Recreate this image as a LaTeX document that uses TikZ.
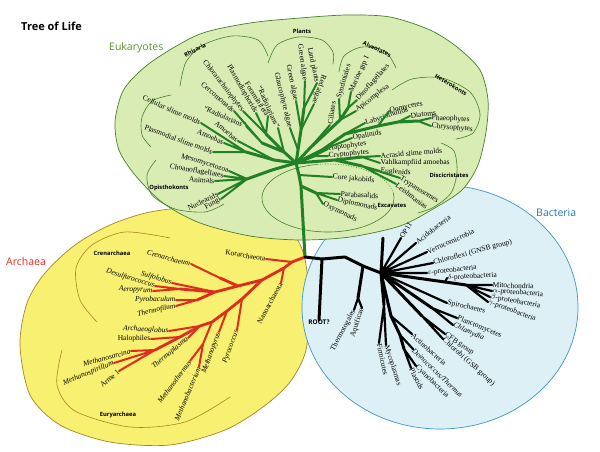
\documentclass[tikz,border=0pt]{standalone}
\usepackage{amsmath}
\usepackage{amssymb}
\usepackage{fontspec}
\setmainfont{Liberation Serif}
\setsansfont{Open Sans}
\usepackage{tikz}
\definecolor{eukgreen}{RGB}{34,128,38}
\definecolor{eukfill}{RGB}{216,236,180}
\definecolor{eukedge}{RGB}{72,128,40}
\definecolor{euktext}{RGB}{88,150,45}
\definecolor{arcfill}{RGB}{248,240,112}
\definecolor{arcedge}{RGB}{168,132,40}
\definecolor{arcred}{RGB}{222,45,30}
\definecolor{bacfill}{RGB}{221,240,246}
\definecolor{bacedge}{RGB}{62,150,200}
\definecolor{bactext}{RGB}{40,120,190}

\begin{document}
\begin{tikzpicture}[line cap=round,line join=round,x=1pt,y=-1pt,
  lbl/.style={font=\fontsize{7.5}{8}\selectfont,inner sep=0.5pt},
  lbe/.style={lbl,anchor=east},
  lbw/.style={lbl,anchor=west},
  ital/.style={font=\fontsize{7.5}{8}\selectfont\itshape},
  grp/.style={font=\sffamily\bfseries\fontsize{5.8}{7}\selectfont,inner sep=0pt},
  domlbl/.style={font=\sffamily\fontsize{10.5}{12}\selectfont,inner sep=0pt,anchor=west},
  eukarc/.style={draw=eukedge,line width=0.6pt},
  arcarc/.style={draw=arcedge,line width=0.6pt},
  euk/.style={draw=eukgreen,line width=3pt},
  eukleaf/.style={draw=eukgreen,line width=2pt},
  arch/.style={draw=arcred,line width=2.8pt},
  archleaf/.style={draw=arcred,line width=2pt},
  bac/.style={draw=black,line width=3pt},
  bacleaf/.style={draw=black,line width=2.2pt}]

\fill[white] (0,0) rectangle (600,452);
\useasboundingbox (0,0) rectangle (600,452);

\filldraw[fill=arcfill,draw=arcedge,line width=0.7pt] plot[smooth cycle] coordinates {(20,345) (27,303) (45,273) (75,245) (110,225) (150,212) (200,207) (250,213) (288,228) (304,255) (309,300) (306,350) (290,382) (263,407) (225,430) (170,445) (110,442) (60,425) (30,395)};
\filldraw[fill=bacfill,draw=bacedge,line width=0.7pt] (440,307) ellipse [x radius=138pt,y radius=122pt];
\filldraw[fill=eukfill,draw=eukedge,line width=0.7pt] plot[smooth cycle] coordinates {(115,122) (122,93) (135,76) (157,58) (200,34) (250,23) (300,18) (347,15) (390,17) (430,30) (457,47) (480,70) (488,100) (486,132) (478,165) (462,190) (433,209) (400,226) (350,237) (300,240) (250,236) (200,223) (163,203) (135,175) (119,150)};

\node[font=\sffamily\bfseries\fontsize{11}{13}\selectfont,anchor=west,inner sep=0pt] (title) at (21,26) {Tree of Life};
\node[domlbl,text=euktext] (eukname) at (109,48) {Eukaryotes};
\node[domlbl,text=arcred] (arcname) at (6,262) {Archaea};
\node[domlbl,text=bactext] (bacname) at (536,213) {Bacteria};

\draw[eukarc] plot[smooth] coordinates {(180,86) (186,62) (203,45) (232,36) (258,40) (268,56)};
\draw[eukarc] plot[smooth] coordinates {(171,95) (152,101) (142,117) (142,135) (151,147)};
\draw[eukarc] plot[smooth] coordinates {(156,160) (147,175) (152,195) (175,209) (205,212) (224,204)};
\draw[eukarc] plot[smooth] coordinates {(268,63) (277,45) (298,37) (322,40) (333,52) (333,64)};
\draw[eukarc] plot[smooth] coordinates {(339,72) (344,56) (362,47) (385,51) (396,68)};
\draw[eukarc] plot[smooth] coordinates {(392,90) (412,79) (442,78) (470,92) (480,114) (473,133) (456,139)};
\draw[eukarc] plot[smooth] coordinates {(441,143) (454,151) (457,172) (451,193) (434,207) (418,213)};
\draw[eukarc] (328,198) ++(100:66pt and 34pt) arc[start angle=100,end angle=368,x radius=66pt,y radius=34pt];
\draw[eukarc,dotted] (328,198) ++(8:66pt and 34pt) arc[start angle=8,end angle=100,x radius=66pt,y radius=34pt];
\draw[arcarc] plot[smooth] coordinates {(97,322) (80,300) (76,268) (92,245) (125,232) (170,238)};
\draw[arcarc] plot[smooth] coordinates {(62,350) (57,385) (75,411) (130,427) (185,422) (230,397)};

\node[grp,rotate=28] (rhiz) at (195,50) {Rhizaria};
\node[grp] (plants) at (302,31) {Plants};
\node[grp,rotate=-25] (alveo) at (377,49) {Alveolates};
\node[grp,rotate=-31] (hetero) at (451,85) {Heterokonts};
\node[grp] (disci) at (449,175) {Discicristates};
\node[grp] (excav) at (392,205) {Excavates};
\node[grp] (opis) at (169,188) {Opisthokonts};
\node[grp] (crengrp) at (112,253) {Crenarchaea};
\node[grp] (eurygrp) at (118,415) {Euryarchaea};

\coordinate (rt) at (305,257);
\coordinate (eH) at (296,163);
\coordinate (eJ) at (299,175);
\coordinate (eX) at (301,186);
\coordinate (eX1) at (316,193);
\coordinate (eD) at (335,160);
\coordinate (eD1) at (362,157);
\coordinate (eD2) at (362,166);
\coordinate (eHc) at (314,156);
\coordinate (eK) at (322,150);
\coordinate (eK1) at (345,134);
\coordinate (eK2) at (378,126);
\coordinate (eK3) at (398,122);
\coordinate (eK4) at (418,121);
\coordinate (eA) at (310,148);
\coordinate (eA1) at (340,120);
\coordinate (eA2) at (348,108);
\coordinate (eP) at (298,150);
\coordinate (eP1) at (301,130);
\coordinate (eP2) at (304,108);
\coordinate (eR) at (284,152);
\coordinate (eR1) at (266,134);
\coordinate (eR3) at (262,143);
\coordinate (eM) at (274,160);
\coordinate (eM1) at (246,152);
\coordinate (eO) at (272,170);
\coordinate (eO1) at (247,179);

\node[lbe,rotate=-52] (chl) at (243,111) {Chlorarachniophytes};
\node[lbe,rotate=-60] (pla) at (256,113) {Plasmodiophorids};
\node[lbe,rotate=-58] (fora) at (268,116) {Foraminifera};
\node[lbe,rotate=-66] (rad1) at (278,128) {``Radiolarians''};
\node[lbe,rotate=-41] (cer) at (234,111) {Cercomonads};
\node[lbe,rotate=-23] (rad2) at (246,126) {``Radiolarians''};
\node[lbe,rotate=-40] (amo1) at (238,141) {Amoebas};
\node[lbe,rotate=-24] (cel) at (201,123) {Cellular slime molds};
\node[lbe,rotate=-25] (amo2) at (224,143) {Amoebas};
\node[lbe,rotate=-20] (pls) at (213,152) {Plasmodial slime molds};
\node[lbe,rotate=-17] (mes) at (229,171) {Mesomycetozoa};
\node[lbe,rotate=-10] (cho) at (224,176) {Choanoflagellates};
\node[lbe,rotate=-4] (ani) at (215,181) {Animals};
\node[lbe,rotate=25] (nuc) at (218,194) {Nuclearids};
\node[lbe,rotate=30] (fun) at (221,199) {Fungi};
\node[lbe,rotate=-76] (gla) at (290,128) {Glaucophyte algae};
\node[lbe,rotate=-78] (gra2) at (296,101) {Green algae};
\node[lbe,rotate=-82] (gra1) at (305,81) {Green algae};
\node[lbe,rotate=-78] (lan) at (317,83) {Land plants};
\node[lbe,rotate=-109] (reda) at (314,104) {Red algae};
\node[lbw,rotate=82] (cil) at (330,125) {Ciliates};
\node[lbw,rotate=74] (syn) at (339,99) {Syndiniales};
\node[lbw,rotate=65] (mar) at (351,92) {Marine grp I};
\node[lbw,rotate=48] (din) at (357,100) {Dinoflagellates};
\node[lbw,rotate=38] (api) at (356,111) {Apicomplexa};
\node[lbw,rotate=10] (opa) at (352,138) {Opalinids};
\node[lbw,rotate=17] (lab) at (365,123) {Labyrinthulids};
\node[lbw,rotate=12] (oom) at (389,111) {Oomycetes};
\node[lbw,rotate=8] (dia) at (410,116) {Diatoms};
\node[lbw,rotate=-3] (pha) at (431,118) {Phaeophytes};
\node[lbw,rotate=-5] (chr) at (431,126) {Chrysophytes};
\node[lbw,rotate=8] (hap) at (328,149) {Haptophytes};
\node[lbw,rotate=5] (cry) at (328,156) {Cryptophytes};
\node[lbw,rotate=5] (acr) at (380,156) {Acrasid slime molds};
\node[lbw] (vah) at (380,163) {Vahlkampfiid amoebas};
\node[lbw,rotate=-4] (eug) at (380,171) {Euglenids};
\node[lbw,rotate=-32] (try) at (400,178) {Trypanosomes};
\node[lbw,rotate=-37] (lei) at (396,184) {Leishmanias};
\node[lbw,rotate=-5] (cor) at (332,177) {Core jakobids};
\node[lbw,rotate=-3] (par) at (340,194) {Parabasalids};
\node[lbw,rotate=-12] (dip) at (337,200) {Diplomonads};
\node[lbw,rotate=-25] (oxy) at (323,204) {Oxymonads};

\draw[euk] (rt) -- (eX) -- (eJ) -- (eH);
\draw[eukleaf] (eJ) -- (cor.west);
\draw[euk] (eX) -- (eX1);
\draw[eukleaf] (eX1) -- (par.west) (eX1) -- (dip.west) (eX1) -- (oxy.west);
\draw[euk] (eH) -- (eD) -- (eD1) (eD) -- (eD2);
\draw[eukleaf] (eD1) -- (acr.west) (eD1) -- (vah.west) (eD2) -- (eug.west) (eD2) -- (try.west) (eD2) -- (lei.west);
\draw[euk] (eH) -- (eHc);
\draw[eukleaf] (eHc) -- (hap.west) (eHc) -- (cry.west);
\draw[euk] (eH) -- (eK) -- (eK1) -- (eK2) -- (eK3) -- (eK4);
\draw[eukleaf] (eK) -- (opa.west) (eK1) -- (lab.west) (eK2) -- (oom.west) (eK3) -- (dia.west) (eK4) -- (pha.west) (eK4) -- (chr.west);
\draw[euk] (eH) -- (eA) -- (eA1) -- (eA2);
\draw[eukleaf] (eA) -- (cil.west) (eA1) -- (syn.west) (eA1) -- (api.west) (eA2) -- (mar.west) (eA2) -- (din.west);
\draw[euk] (eH) -- (eP) -- (eP1) -- (eP2);
\draw[eukleaf] (eP) -- (gla.east) (eP1) -- (gra2.east) (eP1) -- (reda.east) (eP2) -- (gra1.east) (eP2) -- (lan.east);
\draw[euk] (eH) -- (eR) -- (eR1) (eR) -- (eR3);
\draw[eukleaf] (eR) -- (rad1.east) (eR1) -- (chl.east) (eR1) -- (pla.east) (eR1) -- (fora.east) (eR3) -- (cer.east) (eR3) -- (rad2.east);
\draw[euk] (eH) -- (eM) -- (eM1);
\draw[eukleaf] (eM) -- (amo1.east) (eM1) -- (cel.east) (eM1) -- (amo2.east) (eM1) -- (pls.east);
\draw[euk] (eH) -- (eO) -- (eO1);
\draw[eukleaf] (eO1) -- (mes.east) (eO1) -- (cho.east) (eO1) -- (ani.east) (eO1) -- (nuc.east) (eO1) -- (fun.east);

\coordinate (a0) at (292,262);
\coordinate (a1) at (284,268);
\coordinate (a2) at (262,280);
\coordinate (c0) at (238,286);
\coordinate (c1) at (220,278);
\coordinate (c2) at (215,292);
\coordinate (c3) at (180,289);
\coordinate (c5) at (197,300);
\coordinate (e1) at (242,299);
\coordinate (e2) at (227,311);
\coordinate (e3) at (212,322);
\coordinate (e3b) at (203,344);
\coordinate (e4) at (200,326);
\coordinate (e5) at (180,337);
\coordinate (e6) at (155,350);

\node[lbe,rotate=-10] (kor) at (266,259) {Korarchaeota};
\node[lbe,rotate=61] (nan) at (281,283) {Nanoarchaeota};
\node[lbe,ital,rotate=-15] (cren) at (191,264) {Crenarchaeum};
\node[lbe,ital,rotate=-17] (sul) at (172,283) {Sulfolobus};
\node[lbe,ital,rotate=-17] (des) at (155,286) {Desulfurococcus};
\node[lbe,ital,rotate=-3] (aer) at (153,291) {Aeropyrum};
\node[lbe,ital] (pyb) at (176,300) {Pyrobaculum};
\node[lbe,ital,rotate=12] (thf) at (176,306) {Thermofilum};
\node[lbe,ital,rotate=-3] (arg) at (169,331) {Archaeoglobus};
\node[lbe] (hal) at (151,339) {Halophiles};
\node[lbe,ital,rotate=15] (msa) at (131,351) {Methanosarcina};
\node[lbe,ital,rotate=22] (msp) at (114,363) {Methanospirillum};
\node[lbe,rotate=40] (arm) at (119,371) {Arme 1};
\node[lbe,ital,rotate=40] (tpl) at (188,338) {Thermoplasma};
\node[lbe,ital,rotate=53] (mth) at (190,361) {Methanothermus};
\node[lbe,ital,rotate=67] (mba) at (199,367) {Methanobacterium};
\node[lbe,ital,rotate=70] (mpy) at (219,332) {Methanopyrus};
\node[lbe,ital,rotate=70] (pyc) at (237,330) {Pyrococcus};

\draw[arch] (rt) -- (a0) -- (a1) -- (a2) -- (e1) -- (e2) -- (e3) -- (e4) -- (e5) -- (e6);
\draw[arch] (a2) -- (c0) -- (c1) (c0) -- (c2) -- (c5) (c2) -- (c3);
\draw[archleaf] (a0) -- (kor.east) (a1) -- (nan.east) (c1) -- (cren.east) (c2) -- (sul.east) (c3) -- (des.east) (c3) -- (aer.east);
\draw[archleaf] (c5) -- (pyb.east) (c5) -- (thf.east) (e1) -- (pyc.east) (e2) -- (mpy.east) (e3) -- (e3b) (e3b) -- (mth.east) (e3b) -- (mba.east);
\draw[archleaf] (e4) -- (tpl.east) (e4) -- (arg.east) (e5) -- (hal.east) (e6) -- (msa.east) (e6) -- (msp.east) (e6) -- (arm.east);

\coordinate (bA) at (322,259);
\coordinate (bB) at (345,257);
\coordinate (bC) at (363,266);
\coordinate (b0) at (381,273);
\coordinate (bUp) at (383,238);
\coordinate (bT) at (358,298);
\coordinate (bP) at (445,282);
\coordinate (bM) at (466,285);
\coordinate (bPl) at (432,308);
\coordinate (bCf) at (422,316);
\coordinate (bF) at (384,305);
\coordinate (bAc) at (391,316);
\coordinate (bDe) at (400,335);
\coordinate (bCy) at (404,349);

\node[grp,anchor=north,font=\sffamily\bfseries\fontsize{6.4}{7}\selectfont] (rootq) at (319,320) {ROOT?};
\node[lbe,rotate=62] (tht) at (354,310) {Thermotogales};
\node[lbe,rotate=72] (aqu) at (362,308) {Aquificae};
\node[lbw,rotate=58] (op) at (401,238) {OP11};
\node[lbw,rotate=38] (aci) at (416,243) {Acidobacteria};
\node[lbw,rotate=24] (ver) at (427,252) {Verrucomicrobia};
\node[lbw,rotate=15] (chf) at (433,263) {Chloroflexi (GNSB group)};
\node[lbw,rotate=6] (eps) at (427,273) {$\varepsilon$-proteobacteria};
\node[lbw,rotate=3] (del) at (447,278) {$\delta$-proteobacteria};
\node[lbw,rotate=-2] (mit) at (492,285) {Mitochondria};
\node[lbw,rotate=-4] (alp) at (492,291) {$\alpha$-proteobacteria};
\node[lbw,rotate=-10] (bet) at (490,297) {$\beta$-proteobacteria};
\node[lbw,rotate=-20] (gam) at (488,302) {$\gamma$-proteobacteria};
\node[lbw,rotate=-12] (spi) at (447,303) {Spirochaetes};
\node[lbw,rotate=-22] (plc) at (457,318) {Planctomycetes};
\node[lbw,ital,rotate=-24] (chm) at (453,325) {Chlamydia};
\node[lbw,rotate=-35] (cfb) at (445,334) {CFB group};
\node[lbw,rotate=-42] (chb) at (443,339) {Chlorobi (GSB group)};
\node[lbw,rotate=-42] (act) at (412,334) {Actinobacteria};
\node[lbw,ital,rotate=-44] (dei) at (413,349) {Deinococcus/Thermus};
\node[lbw,rotate=-44] (cya) at (416,366) {Cyanobacteria};
\node[lbw,rotate=-63] (pst) at (411,368) {Plastids};
\node[lbw,rotate=-72] (myc) at (386,345) {Mycoplasmas};
\node[lbw,rotate=-78] (fir) at (379,343) {Firmicutes};

\draw[bac] (rt) -- (bA) -- (bB) -- (bC) -- (b0);
\draw[bac] (bA) -- (rootq.north);
\draw[bac] (bC) -- (bT) (b0) -- (bUp) (b0) -- (bP) -- (bM) (b0) -- (bPl) (b0) -- (bCf) (b0) -- (bF) (b0) -- (bAc) -- (bDe) -- (bCy);
\draw[bacleaf] (bT) -- (tht.east) (bT) -- (aqu.east);
\draw[bacleaf] (b0) -- (op.west) (b0) -- (aci.west) (b0) -- (ver.west) (b0) -- (chf.west) (b0) -- (eps.west) (b0) -- (spi.west);
\draw[bacleaf] (bP) -- (del.west) (bM) -- (mit.west) (bM) -- (alp.west) (bM) -- (bet.west) (bM) -- (gam.west);
\draw[bacleaf] (bPl) -- (plc.west) (bPl) -- (chm.west) (bCf) -- (cfb.west) (bCf) -- (chb.west);
\draw[bacleaf] (bF) -- (myc.west) (bF) -- (fir.west) (bAc) -- (act.west) (bDe) -- (dei.west) (bCy) -- (cya.west) (bCy) -- (pst.west);
\end{tikzpicture}
\end{document}
